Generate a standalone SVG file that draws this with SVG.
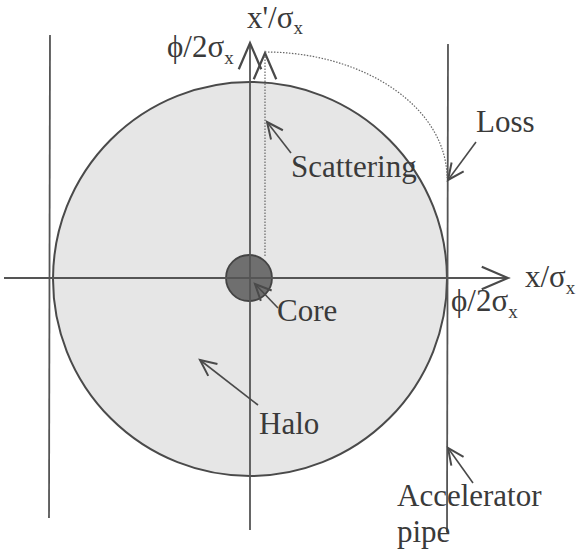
<svg xmlns="http://www.w3.org/2000/svg" width="579" height="551" viewBox="0 0 579 551">
<style>
text{font-family:"Liberation Serif","Times New Roman",serif;font-size:31px;fill:#3a3a3a}
.sub{font-size:19px}
.ln{stroke:#555;stroke-width:1.8;fill:none}
.ar{stroke:#4a4a4a;stroke-width:1.6;fill:none}
.dot{stroke:#666;stroke-width:1.2;fill:none;stroke-dasharray:1.5 1.5}
</style>
<defs>
<marker id="axh" markerUnits="userSpaceOnUse" markerWidth="30" markerHeight="30" viewBox="-22 -11 24 22" refX="0" refY="0" orient="auto" overflow="visible">
<path d="M-21,-9 L0,0 L-21,9" fill="none" stroke="#4a4a4a" stroke-width="1.8"/>
</marker>
<marker id="lbh" markerUnits="userSpaceOnUse" markerWidth="20" markerHeight="20" viewBox="-14 -7 16 14" refX="0" refY="0" orient="auto" overflow="visible">
<path d="M-13,-6 L0,0 L-13,6" fill="none" stroke="#4a4a4a" stroke-width="1.6"/>
</marker>
</defs>
<rect width="579" height="551" fill="#fff"/>
<g id="halo"><circle cx="250" cy="279" r="197" fill="#e6e6e6" stroke="#4a4a4a" stroke-width="2"/></g>
<g id="pipes">
<line class="ln" x1="50" y1="35" x2="49" y2="518"/>
<line class="ln" x1="448" y1="44" x2="447" y2="532"/>
</g>
<g id="core"><circle cx="249" cy="278" r="23" fill="#6f6f6f" stroke="#444" stroke-width="1.8"/></g>
<g id="connectors">
<line class="ln" x1="4" y1="278" x2="508" y2="278" marker-end="url(#axh)"/>
<line class="ln" x1="250" y1="530" x2="250" y2="43" marker-end="url(#axh)"/>
<line class="dot" x1="265" y1="256" x2="265" y2="53" marker-end="url(#axh)"/>
<path class="dot" d="M265,52 A182,126 0 0 1 447,178"/>
<line class="ar" x1="476" y1="142" x2="448" y2="180" marker-end="url(#lbh)"/>
<line class="ar" x1="291" y1="153" x2="267" y2="122" marker-end="url(#lbh)"/>
<line class="ar" x1="278" y1="308" x2="255" y2="284" marker-end="url(#lbh)"/>
<line class="ar" x1="258" y1="405" x2="200" y2="360" marker-end="url(#lbh)"/>
<line class="ar" x1="473" y1="483" x2="448" y2="448" marker-end="url(#lbh)"/>
</g>
<g id="labels">
<text x="247" y="28">x'/σ<tspan class="sub" dy="6">x</tspan></text>
<text x="167" y="57">ϕ/2σ<tspan class="sub" dy="7">x</tspan></text>
<text x="525" y="287">x/σ<tspan class="sub" dy="7">x</tspan></text>
<text x="451" y="311">ϕ/2σ<tspan class="sub" dy="7">x</tspan></text>
<text x="476" y="132">Loss</text>
<text x="291" y="177">Scattering</text>
<text x="277" y="321">Core</text>
<text x="259" y="434">Halo</text>
<text x="397" y="506">Accelerator</text>
<text x="397" y="542">pipe</text>
</g>
</svg>
